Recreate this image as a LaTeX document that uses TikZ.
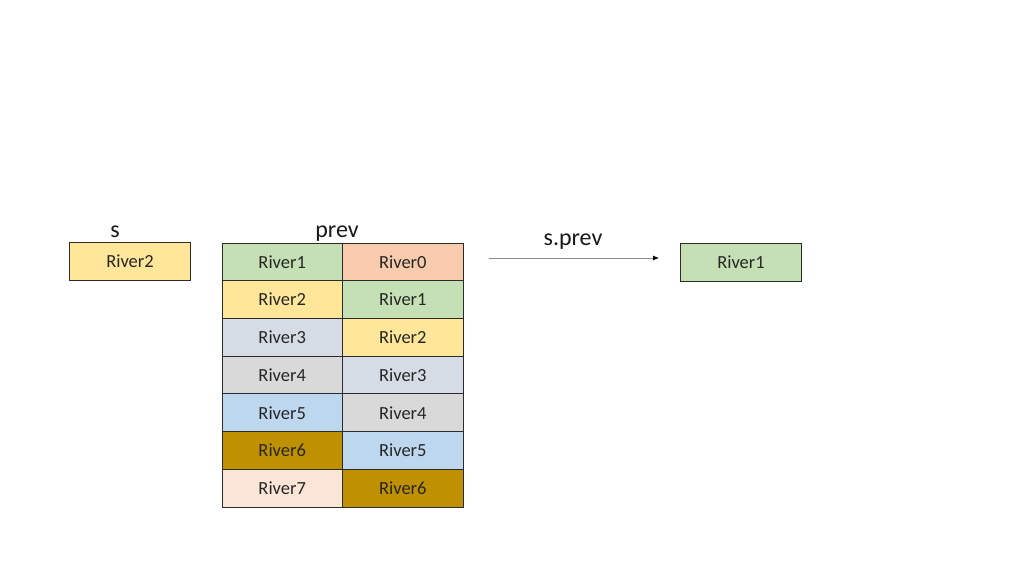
\documentclass[tikz,border=0pt]{standalone}
\usepackage{fontspec}
\setmainfont{Carlito}
\usetikzlibrary{arrows.meta}
\definecolor{cgreen}{HTML}{C5E0B4}
\definecolor{cpeach}{HTML}{F8CBAD}
\definecolor{cyellow}{HTML}{FFE699}
\definecolor{cslate}{HTML}{D6DCE5}
\definecolor{cgray}{HTML}{D9D9D9}
\definecolor{cblue}{HTML}{BDD7EE}
\definecolor{cgold}{HTML}{BF9000}
\definecolor{clpeach}{HTML}{FBE5D6}
\definecolor{cborder}{HTML}{2B2B2B}
\begin{document}
\begin{tikzpicture}[x=1pt,y=-1pt,
  cell/.style={draw=cborder, line width=0.8pt, minimum width=120.5pt, minimum height=37.7pt,
    inner sep=0pt, font=\fontsize{18.5}{22}\selectfont, text=black!85},
  title/.style={font=\fontsize{24}{28}\selectfont, text=black!90, inner sep=0pt, anchor=base},
  conn/.style={draw=black!45, line width=0.9pt, -{Latex[length=6pt,width=5pt,black]}}]
\useasboundingbox (0,0) rectangle (1024,576);
% s
\node[title] (slabel) at (115,237) {s};
\node[cell, fill=cyellow] (s) at (130,261.5) {River2};
% prev table
\node[title] (prevlabel) at (337,237) {prev};
\node[cell, fill=cgreen]  (a1) at (282.2,261.9) {River1};
\node[cell, fill=cpeach]  (b1) at (402.8,261.9) {River0};
\node[cell, fill=cyellow] (a2) at (282.2,299.6) {River2};
\node[cell, fill=cgreen]  (b2) at (402.8,299.6) {River1};
\node[cell, fill=cslate]  (a3) at (282.2,337.3) {River3};
\node[cell, fill=cyellow] (b3) at (402.8,337.3) {River2};
\node[cell, fill=cgray]   (a4) at (282.2,375.0) {River4};
\node[cell, fill=cslate]  (b4) at (402.8,375.0) {River3};
\node[cell, fill=cblue]   (a5) at (282.2,412.7) {River5};
\node[cell, fill=cgray]   (b5) at (402.8,412.7) {River4};
\node[cell, fill=cgold]   (a6) at (282.2,450.4) {River6};
\node[cell, fill=cblue]   (b6) at (402.8,450.4) {River5};
\node[cell, fill=clpeach] (a7) at (282.2,488.1) {River7};
\node[cell, fill=cgold]   (b7) at (402.8,488.1) {River6};
% arrow
\coordinate (arrstart) at (489,258);
\coordinate (arrend) at (659,258);
\draw[conn] (arrstart) -- (arrend);
\node[title] (sprev) at (573,245.5) {s.prev};
% result
\node[cell, fill=cgreen] (r) at (741,262.5) {River1};
\end{tikzpicture}
\end{document}
